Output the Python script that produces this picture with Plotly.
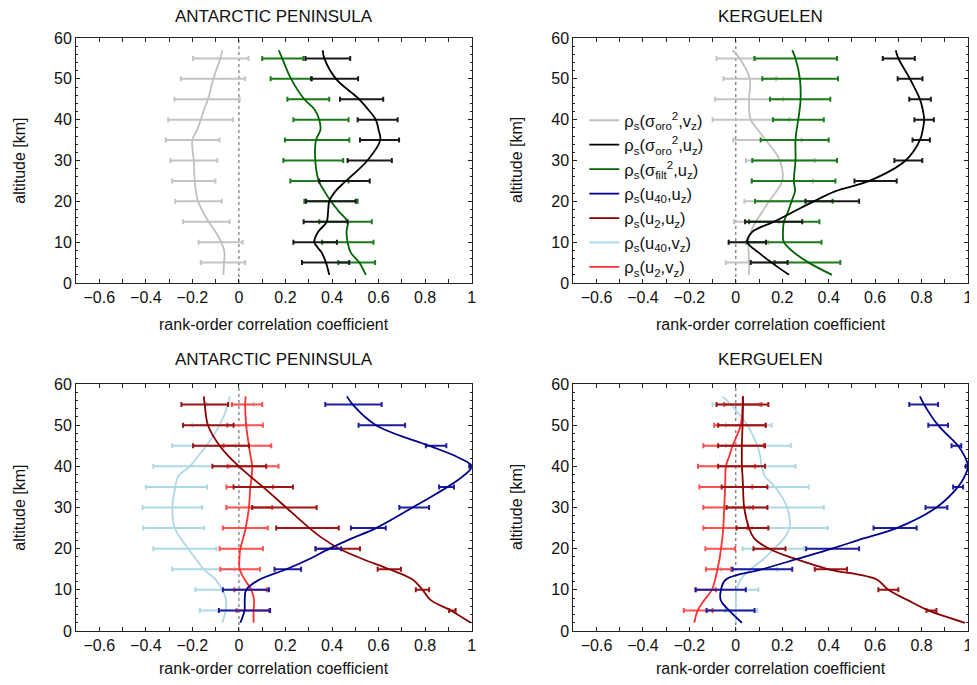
import plotly.graph_objects as go
from plotly.subplots import make_subplots

# altitudes [km] of the smoothed profiles and of the error bars
ALT = [2, 5, 7.5, 10, 12.5, 15, 17.5, 20, 22.5, 25, 30, 35, 37.5, 40, 42.5, 45, 50, 55, 57]
ALT_BAR = [5, 10, 15, 20, 25, 30, 35, 40, 45, 50, 55]

PANEL_TITLES = ["ANTARCTIC PENINSULA", "KERGUELEN", "ANTARCTIC PENINSULA", "KERGUELEN"]
X_TITLE = "rank-order correlation coefficient"
Y_TITLE = "altitude [km]"

# ---- top left: Antarctic Peninsula, orography / filtered variance
ap_oro_vz = [-0.067, -0.064, -0.062, -0.076, -0.10, -0.13, -0.155, -0.176, -0.185, -0.19,
             -0.194, -0.20, -0.18, -0.164, -0.15, -0.133, -0.11, -0.08, -0.071]
ap_oro_vz_lo = [-0.164, -0.173, -0.24, -0.274, -0.287, -0.294, -0.314, -0.304, -0.277, -0.25, -0.197]
ap_oro_vz_hi = [0.027, 0.016, -0.04, -0.074, -0.101, -0.093, -0.083, -0.026, 0.003, 0.027, 0.041]

ap_oro_uz = [0.388, 0.374, 0.355, 0.324, 0.34, 0.377, 0.383, 0.388, 0.415, 0.46,
             0.552, 0.607, 0.60, 0.588, 0.555, 0.517, 0.417, 0.367, 0.36]
ap_oro_uz_lo = [0.271, 0.234, 0.278, 0.288, 0.345, 0.467, 0.52, 0.51, 0.434, 0.31, 0.286]
ap_oro_uz_hi = [0.474, 0.421, 0.467, 0.502, 0.562, 0.657, 0.688, 0.682, 0.62, 0.512, 0.478]

ap_filt_uz = [0.545, 0.517, 0.48, 0.467, 0.462, 0.467, 0.43, 0.395, 0.367, 0.343,
              0.328, 0.331, 0.35, 0.345, 0.325, 0.281, 0.224, 0.186, 0.171]
ap_filt_uz_lo = [0.427, 0.357, 0.345, 0.281, 0.221, 0.191, 0.198, 0.234, 0.208, 0.136, 0.10]
ap_filt_uz_hi = [0.585, 0.578, 0.571, 0.51, 0.471, 0.448, 0.474, 0.471, 0.388, 0.314, 0.277]

# ---- top right: Kerguelen
kg_oro_vz = [0.057, 0.057, 0.055, 0.054, 0.065, 0.086, 0.115, 0.143, 0.175, 0.20,
             0.19, 0.129, 0.095, 0.064, 0.057, 0.057, 0.06, 0.017, -0.014]
kg_oro_vz_lo = [-0.043, -0.029, -0.007, 0.037, 0.067, 0.043, -0.011, -0.10, -0.089, -0.053, -0.083]
kg_oro_vz_hi = [0.169, 0.14, 0.186, 0.30, 0.333, 0.34, 0.283, 0.231, 0.204, 0.174, 0.083]

kg_oro_uz = [0.229, 0.154, 0.097, 0.05, 0.071, 0.164, 0.25, 0.336, 0.43, 0.575,
             0.731, 0.793, 0.805, 0.811, 0.805, 0.793, 0.75, 0.70, 0.689]
kg_oro_uz_lo = [0.064, -0.031, 0.04, 0.30, 0.511, 0.683, 0.761, 0.769, 0.747, 0.697, 0.633]
kg_oro_uz_hi = [0.223, 0.13, 0.286, 0.531, 0.693, 0.803, 0.836, 0.853, 0.84, 0.804, 0.771]

kg_filt_uz = [0.414, 0.314, 0.25, 0.207, 0.203, 0.207, 0.225, 0.24, 0.255, 0.25,
              0.257, 0.257, 0.262, 0.269, 0.275, 0.279, 0.276, 0.257, 0.243]
kg_filt_uz_lo = [0.167, 0.047, 0.057, 0.083, 0.069, 0.071, 0.107, 0.16, 0.147, 0.114, 0.08]
kg_filt_uz_hi = [0.45, 0.369, 0.36, 0.417, 0.429, 0.436, 0.40, 0.379, 0.407, 0.44, 0.436]

# ---- bottom left: Antarctic Peninsula, wind speeds
ap_u40_vz = [-0.071, -0.057, -0.055, -0.071, -0.10, -0.151, -0.185, -0.218, -0.25, -0.276,
             -0.286, -0.273, -0.262, -0.211, -0.175, -0.14, -0.083, -0.047, -0.04]
ap_u40_vz_lo = [-0.168, -0.187, -0.287, -0.368, -0.411, -0.414, -0.40, -0.368, -0.287, -0.20, -0.14]
ap_u40_vz_hi = [-0.011, -0.019, -0.019, -0.097, -0.15, -0.158, -0.137, -0.04, -0.014, 0.037, 0.063]

ap_u2_vz = [0.063, 0.063, 0.065, 0.053, 0.025, 0.003, 0.002, 0.006, 0.018, 0.029,
            0.043, 0.049, 0.055, 0.057, 0.05, 0.043, 0.031, 0.027, 0.029]
ap_u2_vz_lo = [-0.01, -0.02, -0.08, -0.083, -0.069, -0.054, -0.054, -0.049, -0.066, -0.05, -0.03]
ap_u2_vz_hi = [0.13, 0.12, 0.09, 0.103, 0.124, 0.143, 0.146, 0.17, 0.139, 0.103, 0.10]

ap_u2_uz = [0.996, 0.91, 0.824, 0.789, 0.746, 0.646, 0.531, 0.431, 0.36, 0.303,
            0.203, 0.103, 0.05, 0.0, -0.045, -0.083, -0.133, -0.147, -0.151]
ap_u2_uz_lo = [0.903, 0.76, 0.596, 0.329, 0.16, 0.057, -0.023, -0.114, -0.197, -0.24, -0.247]
ap_u2_uz_hi = [0.931, 0.817, 0.696, 0.52, 0.429, 0.334, 0.232, 0.117, 0.043, -0.023, -0.047]

ap_u40_uz = [0.006, 0.024, 0.025, 0.031, 0.089, 0.203, 0.303, 0.389, 0.485, 0.589,
             0.746, 0.896, 0.96, 1.0, 0.93, 0.817, 0.589, 0.489, 0.464]
ap_u40_uz_lo = [-0.086, -0.069, 0.153, 0.329, 0.481, 0.689, 0.86, 0.99, 0.803, 0.514, 0.371]
ap_u40_uz_hi = [0.134, 0.129, 0.267, 0.439, 0.631, 0.817, 0.924, 1.0, 0.891, 0.714, 0.613]

# ---- bottom right: Kerguelen, wind speeds
kg_u40_vz = [0.0, 0.0, 0.0, 0.003, 0.021, 0.064, 0.12, 0.164, 0.207, 0.231,
             0.221, 0.169, 0.126, 0.111, 0.105, 0.093, 0.05, -0.021, -0.057]
kg_u40_vz_lo = [-0.046, -0.086, -0.064, 0.029, 0.07, 0.06, 0.03, -0.04, -0.043, -0.043, -0.10]
kg_u40_vz_hi = [0.093, 0.097, 0.179, 0.293, 0.396, 0.379, 0.314, 0.257, 0.237, 0.154, 0.10]

kg_u2_vz = [-0.179, -0.164, -0.136, -0.103, -0.089, -0.079, -0.07, -0.064, -0.058, -0.054,
            -0.05, -0.046, -0.045, -0.043, -0.028, -0.014, 0.021, 0.029, 0.03]
kg_u2_vz_lo = [-0.224, -0.171, -0.129, -0.131, -0.14, -0.14, -0.157, -0.163, -0.14, -0.093, -0.05]
kg_u2_vz_hi = [-0.10, -0.086, -0.021, -0.003, 0.05, 0.074, 0.071, 0.083, 0.121, 0.129, 0.11]

kg_u2_uz = [0.986, 0.829, 0.74, 0.657, 0.607, 0.40, 0.257, 0.143, 0.079, 0.057,
            0.036, 0.031, 0.029, 0.026, 0.026, 0.026, 0.029, 0.031, 0.031]
kg_u2_uz_lo = [0.821, 0.614, 0.34, 0.076, 0.003, -0.04, -0.061, -0.076, -0.076, -0.076, -0.083]
kg_u2_uz_hi = [0.864, 0.70, 0.479, 0.214, 0.14, 0.136, 0.136, 0.126, 0.126, 0.129, 0.14]

kg_u40_uz = [0.026, -0.029, -0.065, -0.064, -0.043, 0.114, 0.264, 0.414, 0.55, 0.693,
             0.864, 0.957, 0.985, 1.0, 0.985, 0.957, 0.871, 0.811, 0.793]
kg_u40_uz_lo = [-0.126, -0.174, -0.014, 0.303, 0.593, 0.817, 0.936, 0.99, 0.929, 0.829, 0.747]
kg_u40_uz_hi = [0.081, 0.043, 0.243, 0.531, 0.779, 0.911, 0.979, 1.0, 0.971, 0.914, 0.871]

NAMES = {
    "oro_vz": "ρ<sub>s</sub>(σ<sub>oro</sub><sup>2</sup>,v<sub>z</sub>)",
    "oro_uz": "ρ<sub>s</sub>(σ<sub>oro</sub><sup>2</sup>,u<sub>z</sub>)",
    "filt_uz": "ρ<sub>s</sub>(σ<sub>filt</sub><sup>2</sup>,u<sub>z</sub>)",
    "u40_uz": "ρ<sub>s</sub>(u<sub>40</sub>,u<sub>z</sub>)",
    "u2_uz": "ρ<sub>s</sub>(u<sub>2</sub>,u<sub>z</sub>)",
    "u40_vz": "ρ<sub>s</sub>(u<sub>40</sub>,v<sub>z</sub>)",
    "u2_vz": "ρ<sub>s</sub>(u<sub>2</sub>,v<sub>z</sub>)",
}
# (line colour, error bar colour)
COLORS = {
    "oro_vz": ("#c0c0c0", "#c4c4c4"),
    "oro_uz": ("#000000", "#1a1a1a"),
    "filt_uz": ("#006400", "#1b7a1b"),
    "u40_uz": ("#00008b", "#1c1ca0"),
    "u2_uz": ("#8b0000", "#9c1414"),
    "u40_vz": ("#add8e6", "#add8e6"),
    "u2_vz": ("#ff3030", "#ff5050"),
}

FONT = "Liberation Sans, Arial, Helvetica, sans-serif"

fig = make_subplots(rows=2, cols=2)


def add_series(key, curve, lo, hi, row, col, show):
    line_c, bar_c = COLORS[key]
    mid = [(a + b) / 2 for a, b in zip(lo, hi)]
    half = [(b - a) / 2 for a, b in zip(lo, hi)]
    fig.add_trace(go.Scatter(
        x=mid, y=ALT_BAR, mode="markers",
        marker=dict(size=1, color=bar_c),
        error_x=dict(type="data", array=half, color=bar_c, thickness=2, width=2.5),
        showlegend=False, hoverinfo="skip",
    ), row=row, col=col)
    fig.add_trace(go.Scatter(
        x=curve, y=ALT, mode="lines", name=NAMES[key],
        line=dict(color=line_c, width=1.8, shape="spline", smoothing=1.0),
        showlegend=show,
    ), row=row, col=col)


add_series("oro_vz", ap_oro_vz, ap_oro_vz_lo, ap_oro_vz_hi, 1, 1, True)
add_series("filt_uz", ap_filt_uz, ap_filt_uz_lo, ap_filt_uz_hi, 1, 1, False)
add_series("oro_uz", ap_oro_uz, ap_oro_uz_lo, ap_oro_uz_hi, 1, 1, True)
add_series("oro_vz", kg_oro_vz, kg_oro_vz_lo, kg_oro_vz_hi, 1, 2, False)
add_series("filt_uz", kg_filt_uz, kg_filt_uz_lo, kg_filt_uz_hi, 1, 2, True)
add_series("oro_uz", kg_oro_uz, kg_oro_uz_lo, kg_oro_uz_hi, 1, 2, False)

add_series("u40_vz", ap_u40_vz, ap_u40_vz_lo, ap_u40_vz_hi, 2, 1, True)
add_series("u2_vz", ap_u2_vz, ap_u2_vz_lo, ap_u2_vz_hi, 2, 1, True)
add_series("u2_uz", ap_u2_uz, ap_u2_uz_lo, ap_u2_uz_hi, 2, 1, True)
add_series("u40_uz", ap_u40_uz, ap_u40_uz_lo, ap_u40_uz_hi, 2, 1, True)
add_series("u40_vz", kg_u40_vz, kg_u40_vz_lo, kg_u40_vz_hi, 2, 2, False)
add_series("u2_vz", kg_u2_vz, kg_u2_vz_lo, kg_u2_vz_hi, 2, 2, False)
add_series("u2_uz", kg_u2_uz, kg_u2_uz_lo, kg_u2_uz_hi, 2, 2, False)
add_series("u40_uz", kg_u40_uz, kg_u40_uz_lo, kg_u40_uz_hi, 2, 2, False)

# legend order as in the reference
order = ["oro_vz", "oro_uz", "filt_uz", "u40_uz", "u2_uz", "u40_vz", "u2_vz"]
for tr in fig.data:
    for k in order:
        if tr.name == NAMES[k]:
            tr.legendrank = order.index(k) + 1

# the page body adds an 8 px offset, so margins are set 8 px smaller on the left/top
ML, MR, MT, MB = 68, 14, 30, 62
W, H = 977, 685
PW, PH = W - ML - MR, H - MT - MB

X_DOM = {1: [0.0, 0.4436], 2: [0.5575, 1.0]}
Y_DOM = {1: [0.5868, 1.0], 2: [0.0, 0.4165]}


def px_x(px):
    return (px - 8 - ML) / PW


def px_y(py):
    return 1 - (py - 8 - MT) / PH


for r in (1, 2):
    for c in (1, 2):
        fig.update_xaxes(
            domain=X_DOM[c], range=[-0.7, 1.0], tick0=0, dtick=0.2,
            ticks="inside", ticklen=4, tickcolor="#222", mirror="ticks",
            showline=True, linecolor="#222", linewidth=1, showgrid=False, zeroline=False,
            minor=dict(dtick=0.1, ticks="inside", ticklen=4, tickcolor="#222"),
            tickfont=dict(size=16, color="#111"),
            row=r, col=c,
        )
        fig.update_yaxes(
            domain=Y_DOM[r], range=[0, 60], dtick=10,
            ticks="inside", ticklen=4, tickcolor="#222", mirror="ticks",
            showline=True, linecolor="#222", linewidth=1, showgrid=False, zeroline=False,
            minor=dict(dtick=2, ticks="inside", ticklen=2, tickcolor="#222"),
            tickfont=dict(size=16, color="#111"),
            row=r, col=c,
        )
        fig.add_vline(x=0, line=dict(color="#555", width=1, dash="dot"), layer="below", row=r, col=c)

# panel titles and axis titles, placed at the reference pixel positions
panel_cx = [274.5, 773, 274.5, 773]
panel_cy = [160.5, 160.5, 507.5, 507.5]
title_y = [17, 17, 359, 359]
xtitle_y = [325, 325, 668, 668]
ytitle_x = [19, 518, 19, 518]

for i, text in enumerate(PANEL_TITLES):
    fig.add_annotation(text=text, x=px_x(panel_cx[i]), y=px_y(title_y[i]), xref="paper", yref="paper",
                       showarrow=False, xanchor="center", yanchor="middle",
                       font=dict(size=17, color="#111", family=FONT))
    fig.add_annotation(text=X_TITLE, x=px_x(panel_cx[i]), y=px_y(xtitle_y[i]), xref="paper", yref="paper",
                       showarrow=False, xanchor="center", yanchor="middle",
                       font=dict(size=16, color="#111", family=FONT))
    fig.add_annotation(text=Y_TITLE, x=px_x(ytitle_x[i]), y=px_y(panel_cy[i]), xref="paper", yref="paper",
                       showarrow=False, xanchor="center", yanchor="middle", textangle=-90,
                       font=dict(size=16, color="#111", family=FONT))

fig.update_layout(
    width=W, height=H,
    margin=dict(l=ML, r=MR, t=MT, b=MB),
    paper_bgcolor="white", plot_bgcolor="white",
    font=dict(family=FONT, color="#111"),
    legend=dict(x=px_x(586), y=px_y(103), xanchor="left", yanchor="top",
                bgcolor="rgba(0,0,0,0)", font=dict(size=16.5, color="#111"),
                tracegroupgap=0, itemwidth=30),
)

fig.write_html("out.html")
